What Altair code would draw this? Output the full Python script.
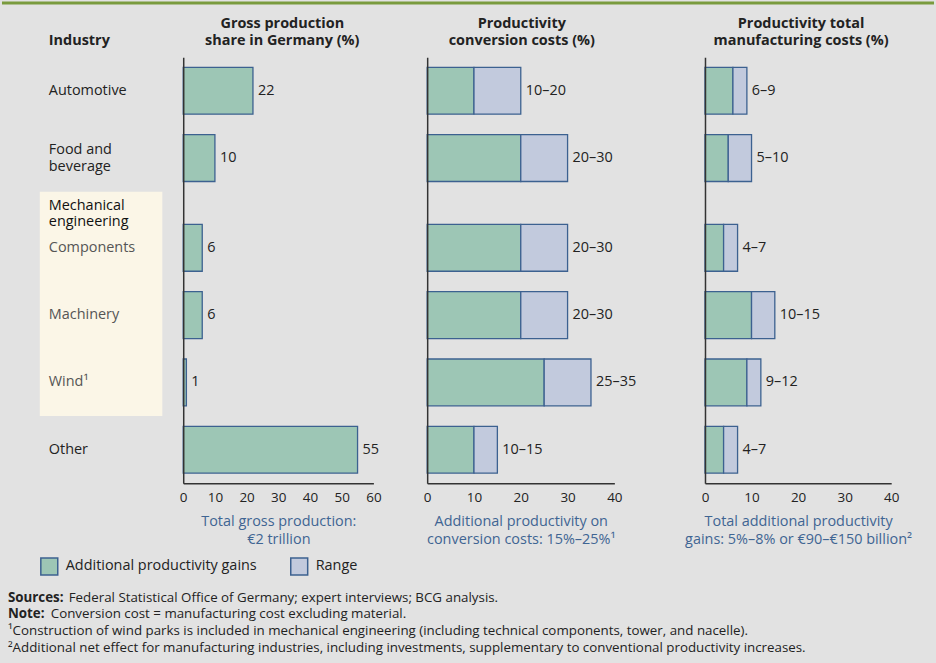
import altair as alt
import pandas as pd

# ---------------- data ----------------
industries = ["Automotive", "Food and beverage", "Components", "Machinery", "Wind", "Other"]
label_lines = [["Automotive"], ["Food and", "beverage"], ["Components"], ["Machinery"], ["Wind¹"], ["Other"]]
in_mech_eng = [False, False, True, True, True, False]
group_name = "Mechanical engineering"
group_lines = ["Mechanical", "engineering"]

gross_share = [22, 10, 6, 6, 1, 55]
conv_low = [10, 20, 20, 20, 25, 10]
conv_high = [20, 30, 30, 30, 35, 15]
total_low = [6, 5, 4, 10, 9, 4]
total_high = [9, 10, 7, 15, 12, 7]
segments = ["Additional productivity gains", "Range"]

panel_titles = [["Gross production", "share in Germany (%)"],
                ["Productivity", "conversion costs (%)"],
                ["Productivity total", "manufacturing costs (%)"]]
axis_titles = [["Total gross production:", "€2 trillion"],
               ["Additional productivity on", "conversion costs: 15%–25%¹"],
               ["Total additional productivity", "gains: 5%–8% or €90–€150 billion²"]]
ticks_p1 = [0, 10, 20, 30, 40, 50, 60]
ticks_p23 = [0, 10, 20, 30, 40]

# ---------------- style ----------------
FONT = "Open Sans"
BG = "#e2e2e2"
GREEN = "#9dc6b5"
LAVENDER = "#c2cadd"
STROKE = "#3c6190"
BLUE_TXT = "#3f6593"
DARK = "#222222"
GREY_TXT = "#555555"
BEIGE = "#fbf6e7"
TOPLINE = "#7a9b3e"
LH = 17

H = 428
# row slots (layout): spacer slots give the uneven row spacing
slot_domain = ["_0", "Automotive", "_2", "_3", "Food and beverage", "_5", group_name, "_7",
               "Components", "_9", "_10", "Machinery", "_12", "_13", "Wind", "_15", "_16",
               "Other", "_18"]
y_scale = alt.Scale(type="band", domain=slot_domain, paddingInner=0, paddingOuter=0)
y_axis = alt.Axis(labels=False, ticks=False, domain=True, title=None, grid=False,
                  domainColor="#333333", domainWidth=1.5, zindex=1)
color_scale = alt.Scale(domain=segments, range=[GREEN, LAVENDER])


def y_enc(field="industry", **kw):
    return alt.Y(f"{field}:N", scale=y_scale, axis=y_axis, **kw)


def x_axis(title, values):
    return alt.Axis(values=values, ticks=False, grid=False, domain=True, domainColor="#333333",
                    domainWidth=1.5, labelFont=FONT, labelFontSize=13.5, labelColor=DARK,
                    labelPadding=7, labelFlush=False, title=title, titleFont=FONT,
                    titleFontSize=14.5, titleFontWeight="normal", titleColor=BLUE_TXT,
                    titlePadding=11, titleLineHeight=18, zindex=1)


def panel(seg_df, lab_df, xmax, ticks, title_lines, axis_title, width, title_dx, legend):
    xs = alt.Scale(domain=[0, xmax], nice=False, zero=True)
    ax = x_axis(axis_title, ticks)
    bars = alt.Chart(seg_df).mark_bar(height=47, stroke=STROKE, strokeWidth=1.3).encode(
        x=alt.X("start:Q", scale=xs, axis=ax),
        x2="end:Q",
        y=y_enc(),
        color=alt.Color("segment:N", scale=color_scale, legend=legend),
    )
    vals = alt.Chart(lab_df).mark_text(align="left", baseline="middle", dx=5, font=FONT,
                                       fontSize=14.5, color=DARK).encode(
        x=alt.X("end:Q", scale=xs, axis=ax),
        y=y_enc(),
        text="label:N",
    )
    head = alt.Chart(pd.DataFrame({"a": [0]})).mark_text(
        align="center", baseline="middle", font=FONT, fontSize=14.5, fontWeight="bold",
        color=DARK, lineHeight=LH).encode(
        x=alt.value(width / 2 + title_dx), y=alt.value(-33), text=alt.value(title_lines))
    return [bars, vals, head]


# ---------- panel 1 ----------
p1_seg = pd.DataFrame({"industry": industries, "segment": segments[0],
                       "start": 0, "end": gross_share})
p1_lab = pd.DataFrame({"industry": industries, "end": gross_share,
                       "label": [str(v) for v in gross_share]})

# ---------- panel 2 / 3 ----------
def range_frames(low, high):
    seg = pd.DataFrame({
        "industry": industries * 2,
        "segment": [segments[0]] * len(industries) + [segments[1]] * len(industries),
        "start": [0] * len(industries) + list(low),
        "end": list(low) + list(high),
    })
    lab = pd.DataFrame({"industry": industries, "end": high,
                        "label": [f"{a}–{b}" for a, b in zip(low, high)]})
    return seg, lab


p2_seg, p2_lab = range_frames(conv_low, conv_high)
p3_seg, p3_lab = range_frames(total_low, total_high)

legend = alt.Legend(orient="none", legendX=-144, legendY=502, direction="horizontal", title=None,
                    symbolType="square", symbolSize=289, symbolStrokeColor=STROKE,
                    symbolStrokeWidth=1.5, symbolOpacity=1,
                    labelFont=FONT, labelFontSize=14.5, labelColor=DARK, labelOffset=7,
                    columnPadding=30, labelLimit=400)

one = pd.DataFrame({"a": [0]})

# decorations for panel 1 (bounds rect, top line, left labels, footnotes)
bounds_rect = alt.Chart(one).mark_rect(fill=BG).encode(
    x=alt.value(-182), x2=alt.value(754), y=alt.value(-56), y2=alt.value(607))
top_line = alt.Chart(one).mark_rule(color=TOPLINE, strokeWidth=3).encode(
    x=alt.value(-182), x2=alt.value(754), y=alt.value(-54.5))
highlight = alt.Chart(pd.DataFrame({"top": [group_name], "bottom": ["_16"]})).mark_rect(
    fill=BEIGE).encode(
    x=alt.value(-144), x2=alt.value(-21),
    y=alt.Y("top:N", scale=y_scale, axis=y_axis, bandPosition=0),
    y2=alt.Y2("bottom:N", bandPosition=0))

lab_df = pd.DataFrame({"industry": industries, "lines": label_lines, "sub": in_mech_eng})


def row_labels(filt, color, dy):
    return alt.Chart(lab_df).transform_filter(filt).mark_text(
        align="left", baseline="middle", font=FONT, fontSize=14.5, lineHeight=LH, color=color,
        dy=dy).encode(x=alt.value(-135), y=y_enc(), text="lines")


main_one = row_labels("!datum.sub && length(datum.lines) == 1", DARK, 0)
main_two = row_labels("!datum.sub && length(datum.lines) > 1", DARK, -LH / 2)
sub_labels = row_labels("datum.sub", GREY_TXT, 0)
group_label = alt.Chart(pd.DataFrame({"industry": [group_name], "lines": [group_lines]})).mark_text(
    align="left", baseline="middle", font=FONT, fontSize=14.5, lineHeight=16, color="#111111",
    dy=-8).encode(
    x=alt.value(-135), y=y_enc(bandPosition=1), text="lines")
industry_head = alt.Chart(one).mark_text(
    align="left", baseline="middle", font=FONT, fontSize=14.5, fontWeight="bold", color=DARK).encode(
    x=alt.value(-135), y=alt.value(-16), text=alt.value("Industry"))


def note(text, x, y, bold=False):
    return alt.Chart(one).mark_text(align="left", baseline="middle", font=FONT, fontSize=13.4,
                                    fontWeight="bold" if bold else "normal", color=DARK).encode(
        x=alt.value(x), y=alt.value(y), text=alt.value(text))


notes = [
    note("Sources:", -176, 543, True),
    note("Federal Statistical Office of Germany; expert interviews; BCG analysis.", -115, 543),
    note("Note:", -176, 559.5, True),
    note("Conversion cost = manufacturing cost excluding material.", -133, 559.5),
    note("¹Construction of wind parks is included in mechanical engineering (including technical components, tower, and nacelle).", -176, 576),
    note("²Additional net effect for manufacturing industries, including investments, supplementary to conventional productivity increases.", -176, 593),
]

p1_layers = panel(p1_seg, p1_lab, 60, ticks_p1, panel_titles[0], axis_titles[0], 191, 4, legend)
p1 = alt.layer(bounds_rect, top_line, highlight, *p1_layers, main_one, main_two, sub_labels,
               group_label, industry_head, *notes).properties(width=191, height=H)
p2 = alt.layer(*panel(p2_seg, p2_lab, 40, ticks_p23, panel_titles[1], axis_titles[1], 188, 1, None)
               ).properties(width=188, height=H)
p3 = alt.layer(*panel(p3_seg, p3_lab, 40, ticks_p23, panel_titles[2], axis_titles[2], 187, 3, None)
               ).properties(width=187, height=H)


def gap(w):
    return alt.Chart(one).mark_point(opacity=0).encode(
        x=alt.value(0), y=alt.value(0)).properties(width=w, height=H)


chart = alt.hconcat(p1, gap(54), p2, gap(91), p3, spacing=0, bounds="flush").resolve_scale(
    x="independent", y="independent", color="independent").properties(
    padding=0, autosize=alt.AutoSizeParams(type="pad"), background=BG
).configure_view(stroke=None).configure_text(font=FONT)

chart.save("out.html", embed_options={"renderer": "svg", "actions": False})
